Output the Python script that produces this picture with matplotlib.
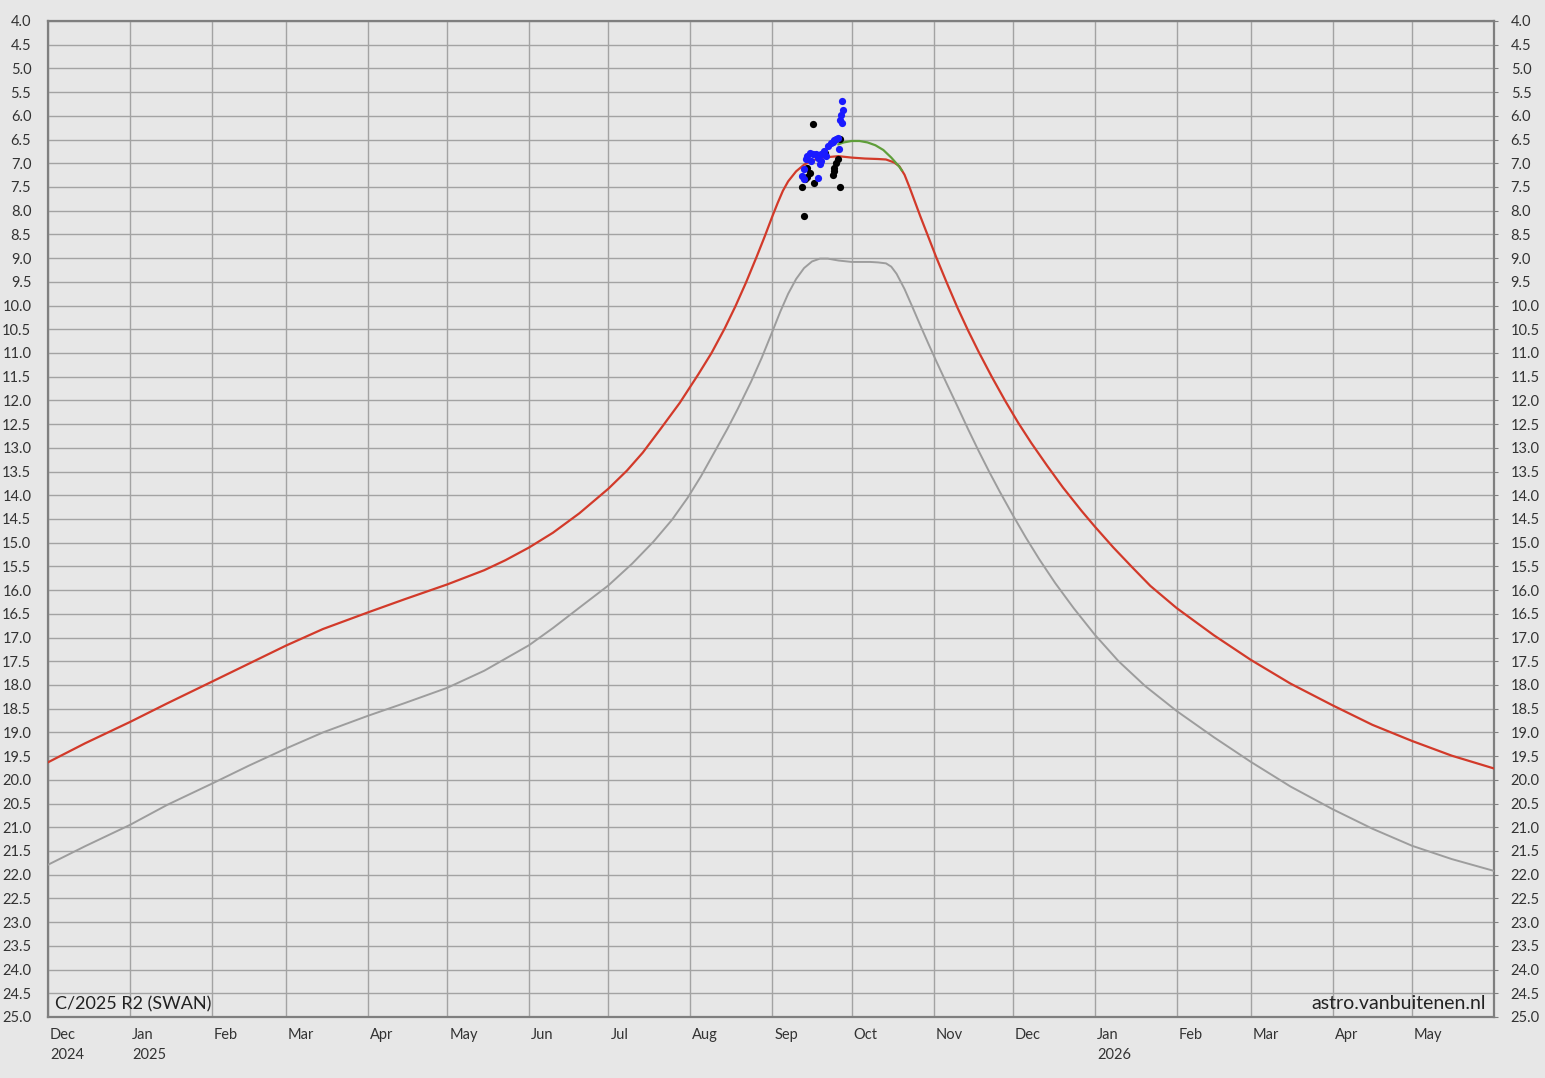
import numpy as np
import pandas as pd
import matplotlib
matplotlib.use('Agg')
import matplotlib.pyplot as plt
import matplotlib.transforms as mtrans

plt.rcParams['font.family'] = ['Lato', 'DejaVu Sans']

# predicted total magnitude (red)
red_dates = ['2024-12-01', '2024-12-15', '2025-01-01', '2025-01-15', '2025-02-01', '2025-02-15',
             '2025-03-01', '2025-03-15', '2025-04-01', '2025-04-15', '2025-05-01', '2025-05-15',
             '2025-05-23', '2025-06-01', '2025-06-10', '2025-06-20', '2025-07-01', '2025-07-08',
             '2025-07-14', '2025-07-21', '2025-07-28', '2025-08-04', '2025-08-09', '2025-08-14',
             '2025-08-18', '2025-08-22', '2025-08-26', '2025-08-29', '2025-09-01', '2025-09-03',
             '2025-09-05', '2025-09-07', '2025-09-10', '2025-09-13', '2025-09-16', '2025-09-20',
             '2025-09-26', '2025-10-01', '2025-10-06', '2025-10-11', '2025-10-14', '2025-10-17',
             '2025-10-19', '2025-10-21', '2025-10-23', '2025-10-25', '2025-10-27', '2025-10-30',
             '2025-11-02', '2025-11-06', '2025-11-10', '2025-11-14', '2025-11-18', '2025-11-23',
             '2025-11-28', '2025-12-03', '2025-12-08', '2025-12-14', '2025-12-20', '2025-12-27',
             '2026-01-01', '2026-01-08', '2026-01-15', '2026-01-22', '2026-02-01', '2026-02-15',
             '2026-03-01', '2026-03-16', '2026-04-01', '2026-04-16', '2026-05-01', '2026-05-16',
             '2026-06-01']
red_mag = [19.63, 19.23, 18.78, 18.39, 17.93, 17.55,
           17.17, 16.82, 16.47, 16.19, 15.88, 15.58,
           15.37, 15.10, 14.79, 14.38, 13.86, 13.48,
           13.10, 12.58, 12.05, 11.45, 11.00, 10.48,
           10.02, 9.52, 8.98, 8.56, 8.12, 7.84,
           7.58, 7.38, 7.17, 7.03, 6.94, 6.88,
           6.85, 6.88, 6.90, 6.91, 6.92, 6.98,
           7.06, 7.24, 7.52, 7.82, 8.12, 8.55,
           8.98, 9.52, 10.04, 10.52, 10.97, 11.50,
           12.00, 12.47, 12.90, 13.38, 13.84, 14.33,
           14.66, 15.10, 15.51, 15.91, 16.38, 16.95,
           17.47, 17.97, 18.43, 18.84, 19.18, 19.49,
           19.76]

# predicted nuclear magnitude (gray)
gray_dates = ['2024-12-01', '2024-12-15', '2025-01-01', '2025-01-15', '2025-02-01', '2025-02-15',
              '2025-03-01', '2025-03-15', '2025-04-01', '2025-04-15', '2025-05-01', '2025-05-15',
              '2025-06-01', '2025-06-10', '2025-06-20', '2025-07-01', '2025-07-10', '2025-07-18',
              '2025-07-25', '2025-07-31', '2025-08-05', '2025-08-10', '2025-08-15', '2025-08-19',
              '2025-08-24', '2025-08-28', '2025-09-01', '2025-09-04', '2025-09-07', '2025-09-10',
              '2025-09-13', '2025-09-16', '2025-09-19', '2025-09-22', '2025-09-26', '2025-10-01',
              '2025-10-08', '2025-10-11', '2025-10-14', '2025-10-16', '2025-10-18', '2025-10-21',
              '2025-10-24', '2025-10-27', '2025-10-30', '2025-11-02', '2025-11-06', '2025-11-10',
              '2025-11-14', '2025-11-18', '2025-11-22', '2025-11-26', '2025-12-01', '2025-12-06',
              '2025-12-11', '2025-12-17', '2025-12-24', '2026-01-01', '2026-01-10', '2026-01-20',
              '2026-02-01', '2026-02-15', '2026-03-01', '2026-03-16', '2026-04-01', '2026-04-16',
              '2026-05-01', '2026-05-16', '2026-06-01']
gray_mag = [21.79, 21.40, 20.95, 20.53, 20.08, 19.70,
            19.34, 19.00, 18.65, 18.38, 18.06, 17.70,
            17.16, 16.80, 16.37, 15.90, 15.44, 14.98,
            14.52, 14.05, 13.60, 13.10, 12.60, 12.17,
            11.60, 11.10, 10.55, 10.13, 9.75, 9.44,
            9.21, 9.07, 9.01, 9.01, 9.05, 9.08,
            9.08, 9.09, 9.11, 9.18, 9.33, 9.65,
            10.03, 10.42, 10.80, 11.17, 11.65, 12.12,
            12.60, 13.06, 13.50, 13.92, 14.42, 14.90,
            15.35, 15.85, 16.38, 16.94, 17.50, 18.02,
            18.55, 19.10, 19.62, 20.14, 20.62, 21.03,
            21.39, 21.67, 21.92]

# adjusted prediction (green)
green_dates = ['2025-09-26', '2025-09-28', '2025-10-01', '2025-10-04', '2025-10-07', '2025-10-10',
               '2025-10-13', '2025-10-16', '2025-10-19', '2025-10-20']
green_mag = [6.60, 6.56, 6.53, 6.53, 6.56, 6.62, 6.72, 6.88, 7.07, 7.15]

# observations, day of September 2025
blue_day = [27.2, 27.6, 26.9, 26.7, 27.3, 25.0, 23.8, 25.7, 24.4, 23.2, 21.9, 20.6, 21.3, 19.4,
            18.1, 17.5, 16.2, 15.2, 14.3, 13.7, 15.6, 19.4, 19.0, 13.1, 12.4, 13.1, 18.1, 26.3]
blue_mag = [5.68, 5.88, 5.99, 6.09, 6.16, 6.49, 6.56, 6.47, 6.50, 6.58, 6.63, 6.74, 6.84, 6.81,
            6.88, 6.81, 6.81, 6.79, 6.84, 6.91, 6.95, 6.95, 7.02, 7.13, 7.26, 7.33, 7.31, 6.70]
black_day = [16.2, 26.5, 21.0, 25.7, 25.0, 24.4, 24.2, 23.8, 14.3, 15.2, 14.3, 13.4, 16.9, 12.4, 26.5, 13.1]
black_mag = [6.18, 6.49, 6.79, 6.90, 6.99, 7.09, 7.16, 7.24, 7.09, 7.20, 7.29, 7.34, 7.41, 7.51, 7.51, 8.11]

title = 'C/2025 R2 (SWAN)'
credit = 'astro.vanbuitenen.nl'

bg = '#e7e7e7'
fig = plt.figure(figsize=(15.45, 10.78), dpi=100, facecolor=bg)
ax = fig.add_axes([48/1545, 1-1017/1078, 1446/1545, 996/1078], facecolor=bg)

sep1 = pd.Timestamp('2025-09-01')
blue_t = [sep1 + pd.Timedelta(days=d-1) for d in blue_day]
black_t = [sep1 + pd.Timedelta(days=d-1) for d in black_day]

ax.plot(pd.to_datetime(gray_dates), gray_mag, color='#9d9d9d', lw=1.4, zorder=3)
ax.plot(pd.to_datetime(red_dates), red_mag, color='#d23a2a', lw=1.6, zorder=4)
ax.plot(pd.to_datetime(green_dates), green_mag, color='#5f9e3a', lw=1.6, zorder=4)
ax.plot(black_t, black_mag, 'o', color='black', ms=5.2, mec='none', zorder=5)
ax.plot(blue_t, blue_mag, 'o', color='#1a1aff', ms=5.2, mec='none', zorder=6)

ax.set_xlim(pd.Timestamp('2024-12-01'), pd.Timestamp('2026-06-01'))
ax.set_ylim(25, 4)

yt = np.arange(4.0, 25.01, 0.5)
ax.set_yticks(yt)
ax.set_yticklabels(['%.1f' % v for v in yt])
ax.tick_params(axis='y', which='both', left=False, right=True, labelleft=True, labelright=True,
               length=3, color='#7f7f7f', labelsize=10.5, labelcolor='#333333', pad=9)

months = pd.date_range('2024-12-01', '2026-05-01', freq='MS')
mlabels = []
for m in months:
    s = m.strftime('%b')
    if (m.month == 12 and m.year == 2024) or m.month == 1:
        s += '\n' + str(m.year)
    mlabels.append(s)
ax.set_xticks(list(months) + [pd.Timestamp('2026-06-01')])
ax.set_xticklabels(mlabels + [''])
ax.tick_params(axis='x', length=0, labelsize=10.5, labelcolor='#333333', pad=8)
offset = mtrans.ScaledTranslation(2/100, 0, fig.dpi_scale_trans)
for lab in ax.get_xticklabels():
    lab.set_horizontalalignment('left')
    lab.set_multialignment('left')
    lab.set_linespacing(1.55)
    lab.set_transform(lab.get_transform() + offset)

ax.grid(True, color='#a3a3a3', lw=1.0)
ax.set_axisbelow(True)
for sp in ax.spines.values():
    sp.set_color('#7f7f7f')
    sp.set_linewidth(1.6)

ax.text(0.005, 0.008, title, transform=ax.transAxes, fontsize=13, color='#222222',
        ha='left', va='baseline')
ax.text(0.9945, 0.008, credit, transform=ax.transAxes, fontsize=14, color='#222222',
        ha='right', va='baseline')

fig.savefig('out.png', dpi=100, facecolor=bg)
